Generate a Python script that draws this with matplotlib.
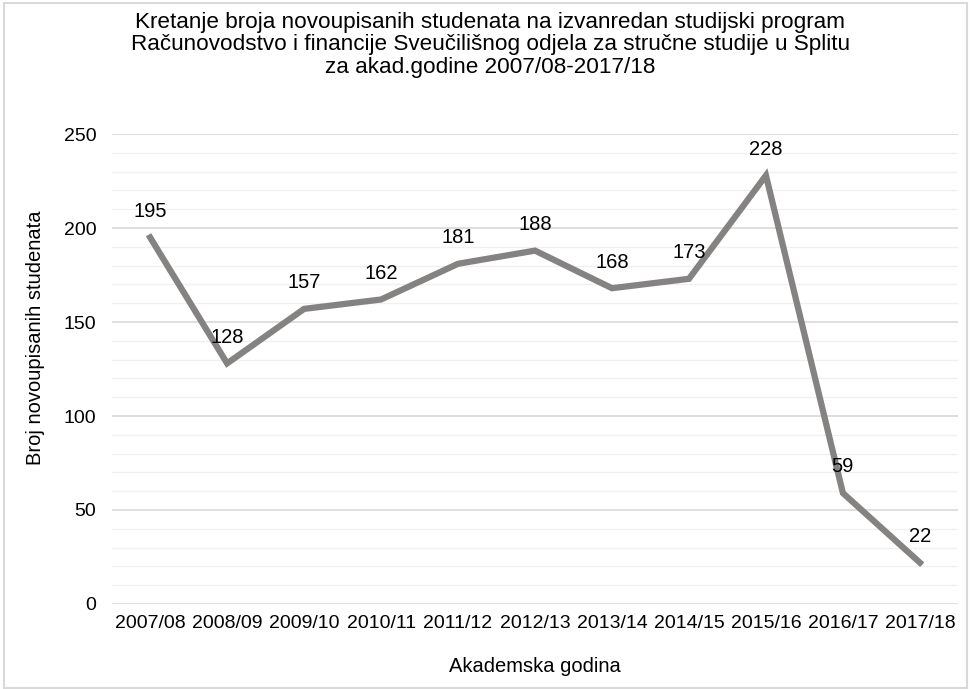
import matplotlib

matplotlib.use("Agg")
import matplotlib.pyplot as plt
from matplotlib.patches import Rectangle
from matplotlib.ticker import MultipleLocator

plt.rcParams["font.family"] = ["Liberation Sans", "DejaVu Sans"]

YEARS = [
    "2007/08", "2008/09", "2009/10", "2010/11", "2011/12", "2012/13",
    "2013/14", "2014/15", "2015/16", "2016/17", "2017/18",
]
STUDENTS = [195, 128, 157, 162, 181, 188, 168, 173, 228, 59, 22]

TITLE = (
    "Kretanje broja novoupisanih studenata na izvanredan studijski program\n"
    "Računovodstvo i financije Sveučilišnog odjela za stručne studije u Splitu\n"
    "za akad.godine 2007/08-2017/18"
)

fig = plt.figure(figsize=(9.71, 6.89), dpi=100)
ax = fig.add_axes([0.115, 0.1234, 0.872, 0.682])

x = range(len(YEARS))
ax.plot(x, STUDENTS, color="#858282", linewidth=4.5, solid_joinstyle="miter", zorder=3)
for xi, val in zip(x, STUDENTS):
    ax.annotate(str(val), (xi, val), xytext=(0, 12), textcoords="offset points",
                ha="center", va="bottom", fontsize=14.5, color="#000000")

ax.set_xlim(-0.5, len(YEARS) - 0.5)
ax.set_ylim(0, 250)
ax.set_xticks(list(x))
ax.set_xticklabels(YEARS, fontsize=14)
ax.yaxis.set_major_locator(MultipleLocator(50))
ax.yaxis.set_minor_locator(MultipleLocator(10))
ax.tick_params(axis="y", labelsize=14, length=0, pad=11)
ax.tick_params(axis="y", which="minor", length=0)
ax.tick_params(axis="x", length=0, pad=8)
ax.grid(axis="y", which="major", color="#d9d9d9", linewidth=1.2)
ax.grid(axis="y", which="minor", color="#f0f0f0", linewidth=1.0)
ax.set_axisbelow(True)
for side in ["top", "right", "left", "bottom"]:
    ax.spines[side].set_visible(False)

ax.set_xlabel("Akademska godina", fontsize=14.5, labelpad=18)
ax.set_ylabel("Broj novoupisanih studenata", fontsize=14.5)
ax.yaxis.set_label_coords(-0.079, 0.566)

fig.text(0.505, 0.983, TITLE, ha="center", va="top", fontsize=16.2, linespacing=1.1)

fig.patches.append(Rectangle((0.004, 0.002), 0.992, 0.993, transform=fig.transFigure,
                             fill=False, edgecolor="#d9d9d9", linewidth=1.5))

fig.savefig("out.png", dpi=100)
